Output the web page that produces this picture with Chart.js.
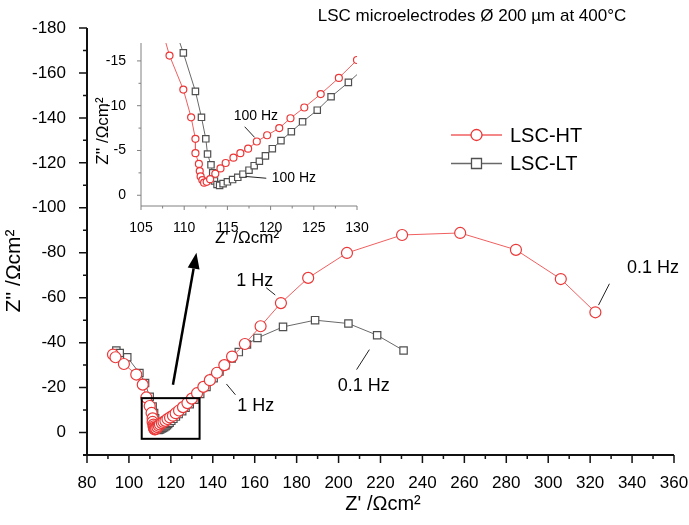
<!DOCTYPE html>
<html>
<head>
<meta charset="utf-8">
<script src="https://cdn.jsdelivr.net/npm/chart.js@4.4.1/dist/chart.umd.min.js"></script>
<style>
  html, body { margin: 0; padding: 0; background: #fff; }
  #wrap { position: relative; width: 689px; height: 525px; }
  #main { position: absolute; left: 0; top: 0; }
  #inset { position: absolute; left: 80px; top: 25px; }
</style>
</head>
<body>
<div id="wrap">
  <canvas id="main" width="689" height="525"></canvas>
  <canvas id="inset" width="300" height="235"></canvas>
</div>
<script>
const FONT = '"Liberation Sans", Arial, sans-serif';

// LSC-HT (red circles): Z' and Z'' in Ohm cm2
const htX = [92.4, 93.6, 97.6, 103.5, 106.6, 108.3, 109.9, 110.8, 111.3, 111.3, 111.7, 111.8, 111.9, 112.1,
  112.3, 112.6, 113.0, 113.6, 114.2, 114.8, 115.7, 116.5, 117.4, 118.4, 119.6, 121.0, 122.3, 123.9, 125.8,
  127.9, 130.0, 132.5, 135.5, 138.6, 142.0, 145.5, 149.2, 155.3, 162.8, 172.5, 185.5, 204.0, 230.3, 258.0,
  284.6, 306.0, 322.5];
const htY = [-34.7, -33.5, -30.5, -25.8, -21.3, -15.6, -11.8, -8.7, -6.3, -4.7, -3.5, -2.7, -2.1, -1.7,
  -1.4, -1.5, -1.8, -2.4, -3.0, -3.6, -4.2, -4.7, -5.2, -6.0, -6.7, -7.5, -8.6, -9.8, -11.3,
  -13.1, -15.1, -17.5, -20.3, -23.3, -26.6, -30.0, -33.8, -39.4, -47.3, -57.6, -68.8, -79.9, -87.9, -88.8,
  -81.3, -68.3, -53.5];

// LSC-LT (grey squares)
const ltX = [94.0, 95.6, 99.2, 105.0, 107.7, 109.9, 111.3, 112.0, 112.5, 112.7, 113.1, 113.3, 113.5, 113.8,
  114.1, 114.5, 115.0, 115.6, 116.2, 116.8, 117.5, 118.1, 118.7, 119.4, 120.2, 121.2, 122.4, 123.7, 125.4,
  127.0, 129.0, 131.3, 134.0, 137.0, 140.4, 143.2, 146.0, 149.0, 152.4, 156.3, 161.3, 173.5, 188.8, 204.7,
  218.4, 231.0];
const ltY = [-36.5, -35.4, -33.5, -26.5, -22.0, -15.9, -11.6, -8.7, -6.3, -4.6, -3.4, -2.5, -1.6, -1.2,
  -1.1, -1.3, -1.5, -1.75, -2.0, -2.35, -2.8, -3.3, -3.8, -4.4, -5.2, -6.1, -7.1, -8.2, -9.5,
  -11.0, -12.6, -14.6, -17.2, -20.3, -24.2, -27.2, -30.0, -33.0, -35.8, -39.2, -42.1, -47.0, -50.0, -48.5,
  -43.3, -36.5];

// tick labels
const mainXLabels = [80, 100, 120, 140, 160, 180, 200, 220, 240, 260, 280, 300, 320, 340, 360];
const mainYLabels = [-180, -160, -140, -120, -100, -80, -60, -40, -20, 0];
const insetXLabels = [105, 110, 115, 120, 125, 130];
const insetYLabels = [-15, -10, -5, 0];

const htPoints = htX.map((x, i) => ({ x: x, y: htY[i] }));
const ltPoints = ltX.map((x, i) => ({ x: x, y: ltY[i] }));

const RED_LINE = 'rgb(240,95,95)';
const RED_MARK = 'rgb(235,55,55)';
const GREY_LINE = 'rgb(105,105,105)';
const GREY_MARK = 'rgb(80,80,80)';

// draws axes with major/minor ticks, titles, notes and extras
const decor = {
  id: 'decor',
  afterDraw(chart, args, cfg) {
    const ctx = chart.ctx;
    const a = chart.chartArea;
    const xs = chart.scales.x, ys = chart.scales.y;
    ctx.save();

    // axes
    ctx.strokeStyle = cfg.axisColor;
    ctx.lineWidth = cfg.axisWidth;
    ctx.beginPath();
    ctx.moveTo(a.left, a.top);
    ctx.lineTo(a.left, a.bottom);
    ctx.moveTo(a.left - cfg.overhang, a.bottom);
    ctx.lineTo(a.right, a.bottom);
    ctx.stroke();

    ctx.lineWidth = cfg.tickWidth;
    ctx.beginPath();
    xs.ticks.forEach(t => {
      const px = xs.getPixelForValue(t.value);
      const len = cfg.xMajor.includes(t.value) ? cfg.majorLen : cfg.minorLen;
      ctx.moveTo(px, a.bottom);
      ctx.lineTo(px, a.bottom + len);
    });
    ys.ticks.forEach(t => {
      const py = ys.getPixelForValue(t.value);
      const len = cfg.yMajor.includes(t.value) ? cfg.majorLen : cfg.minorLen;
      ctx.moveTo(a.left, py);
      ctx.lineTo(a.left - len, py);
    });
    ctx.stroke();

    // titles (pixel placed)
    ctx.fillStyle = '#000';
    ctx.textAlign = 'center';
    ctx.textBaseline = 'middle';
    (cfg.titles || []).forEach(t => {
      ctx.save();
      ctx.font = t.size + 'px ' + FONT;
      ctx.translate(t.x, t.y);
      if (t.rot) ctx.rotate(t.rot);
      ctx.fillText(t.text, 0, 0);
      ctx.restore();
    });

    // frequency notes (data placed)
    (cfg.notes || []).forEach(n => {
      ctx.font = n.size + 'px ' + FONT;
      ctx.fillStyle = '#000';
      ctx.fillText(n.text, xs.getPixelForValue(n.x), ys.getPixelForValue(n.y));
      ctx.strokeStyle = '#222';
      ctx.lineWidth = 1;
      ctx.beginPath();
      ctx.moveTo(xs.getPixelForValue(n.lead[0]), ys.getPixelForValue(n.lead[1]));
      ctx.lineTo(xs.getPixelForValue(n.lead[2]), ys.getPixelForValue(n.lead[3]));
      ctx.stroke();
    });

    // zoom box and arrow
    if (cfg.box) {
      const b = cfg.box;
      const x1 = xs.getPixelForValue(b[0]), y1 = ys.getPixelForValue(b[1]);
      const x2 = xs.getPixelForValue(b[2]), y2 = ys.getPixelForValue(b[3]);
      ctx.strokeStyle = '#000';
      ctx.lineWidth = 2;
      ctx.strokeRect(x1, y1, x2 - x1, y2 - y1);
    }
    if (cfg.arrow) {
      const w = cfg.arrow;
      const x1 = xs.getPixelForValue(w[0]), y1 = ys.getPixelForValue(w[1]);
      const x2 = xs.getPixelForValue(w[2]), y2 = ys.getPixelForValue(w[3]);
      const ang = Math.atan2(y2 - y1, x2 - x1);
      const hl = 16, hw = 6;
      const bx = x2 - hl * Math.cos(ang), by = y2 - hl * Math.sin(ang);
      ctx.strokeStyle = '#000';
      ctx.lineWidth = 2.5;
      ctx.beginPath();
      ctx.moveTo(x1, y1);
      ctx.lineTo(bx, by);
      ctx.stroke();
      ctx.fillStyle = '#000';
      ctx.beginPath();
      ctx.moveTo(x2, y2);
      ctx.lineTo(bx + hw * Math.sin(ang), by - hw * Math.cos(ang));
      ctx.lineTo(bx - hw * Math.sin(ang), by + hw * Math.cos(ang));
      ctx.closePath();
      ctx.fill();
    }

    // legend
    if (cfg.legend) {
      const L = cfg.legend;
      chart.data.datasets.forEach((ds, i) => {
        const y = L.y + i * L.gap;
        ctx.strokeStyle = ds.borderColor;
        ctx.lineWidth = 1.5;
        ctx.beginPath();
        ctx.moveTo(L.x, y);
        ctx.lineTo(L.x + L.len, y);
        ctx.stroke();
        ctx.fillStyle = '#fff';
        ctx.strokeStyle = ds.pointBorderColor;
        ctx.lineWidth = 1.3;
        const cx = L.x + L.len / 2;
        ctx.beginPath();
        if (ds.pointStyle === 'circle') ctx.arc(cx, y, 5.5, 0, Math.PI * 2);
        else ctx.rect(cx - 5, y - 5, 10, 10);
        ctx.fill();
        ctx.stroke();
        ctx.fillStyle = '#000';
        ctx.textAlign = 'left';
        ctx.font = L.size + 'px ' + FONT;
        ctx.fillText(ds.label, L.x + L.len + 8, y + 1);
      });
    }
    ctx.restore();
  }
};

function makeSets(rc, rr) {
  return [
    {
      label: 'LSC-HT', data: htPoints, showLine: true,
      borderColor: RED_LINE, borderWidth: 1,
      pointStyle: 'circle', pointRadius: rc, pointBorderColor: RED_MARK,
      pointBackgroundColor: '#fff', pointBorderWidth: 1.2
    },
    {
      label: 'LSC-LT', data: ltPoints, showLine: true,
      borderColor: GREY_LINE, borderWidth: 1,
      pointStyle: 'rect', pointRadius: rr, pointBorderColor: GREY_MARK,
      pointBackgroundColor: '#fff', pointBorderWidth: 1.2
    }
  ];
}

function scaleOpts(min, max, step, labels, size, pad, fit, reverse) {
  return {
    type: 'linear', min: min, max: max, reverse: !!reverse,
    grid: { display: false }, border: { display: false },
    afterFit: fit,
    ticks: {
      stepSize: step, autoSkip: false, maxRotation: 0, includeBounds: false,
      padding: pad, color: '#000', font: { family: FONT, size: size },
      callback: v => labels.includes(v) ? String(v) : ''
    }
  };
}

new Chart(document.getElementById('main'), {
  type: 'scatter',
  data: { datasets: makeSets(5.5, 5.2) },
  plugins: [decor],
  options: {
    responsive: false, animation: false,
    layout: { padding: { top: 28, right: 15, left: 0, bottom: 0 } },
    scales: {
      x: scaleOpts(80, 360, 10, mainXLabels, 17, 10, s => { s.height = 70; s.paddingRight = 0; s.paddingLeft = 0; }),
      y: scaleOpts(-180, 10, 10, mainYLabels, 17, 13, s => { s.width = 87; }, true)
    },
    plugins: {
      legend: { display: false }, tooltip: { enabled: false },
      decor: {
        axisColor: '#111', axisWidth: 2, tickWidth: 1.5, majorLen: 8, minorLen: 4, overhang: 4,
        xMajor: mainXLabels, yMajor: mainYLabels,
        titles: [
          { text: 'LSC microelectrodes \u00D8 200 \u00B5m at 400\u00B0C', x: 472, y: 16, size: 17 },
          { text: 'Z\' /\u03A9cm\u00B2', x: 383, y: 504, size: 20 },
          { text: 'Z\'\' /\u03A9cm\u00B2', x: 14, y: 271, size: 21, rot: -Math.PI / 2 }
        ],
        notes: [
          { text: '1 Hz', x: 160, y: -67.4, size: 18, lead: [165.5, -64.4, 169.8, -61.2] },
          { text: '1 Hz', x: 160.5, y: -11.6, size: 18, lead: [146.5, -21.6, 150.8, -16.8] },
          { text: '0.1 Hz', x: 212, y: -20.5, size: 18, lead: [208.6, -28.0, 214.7, -36.9] },
          { text: '0.1 Hz', x: 350, y: -73.3, size: 18, lead: [324, -56.7, 329.2, -66.2] }
        ],
        box: [106.1, -15.3, 133.7, 2.8],
        arrow: [121.0, -21.3, 132.2, -80.0],
        legend: { x: 451, y: 135, gap: 28.5, len: 51, size: 20 }
      }
    }
  }
});

new Chart(document.getElementById('inset'), {
  type: 'scatter',
  data: { datasets: makeSets(3.5, 4.5) },
  plugins: [decor],
  options: {
    responsive: false, animation: false,
    layout: { padding: { top: 18, right: 23, left: 0, bottom: 0 } },
    scales: {
      x: scaleOpts(105, 130, 2.5, insetXLabels, 14, 6, s => { s.height = 54; }),
      y: scaleOpts(-17, 1.2, 2.5, insetYLabels, 14, 7, s => { s.width = 61; }, true)
    },
    plugins: {
      legend: { display: false }, tooltip: { enabled: false },
      decor: {
        axisColor: '#808080', axisWidth: 1, tickWidth: 1, majorLen: 4, minorLen: 2.5, overhang: 0,
        xMajor: insetXLabels, yMajor: insetYLabels,
        titles: [
          { text: 'Z\' /\u03A9cm\u00B2', x: 167, y: 213, size: 17 },
          { text: 'Z\'\' /\u03A9cm\u00B2', x: 23, y: 106, size: 17, rot: -Math.PI / 2 }
        ],
        notes: [
          { text: '100 Hz', x: 118.3, y: -8.8, size: 14, lead: [117.0, -7.65, 118.15, -6.46] },
          { text: '100 Hz', x: 122.7, y: -1.9, size: 14, lead: [117.1, -2.1, 119.5, -1.9] }
        ]
      }
    }
  }
});
</script>
</body>
</html>
